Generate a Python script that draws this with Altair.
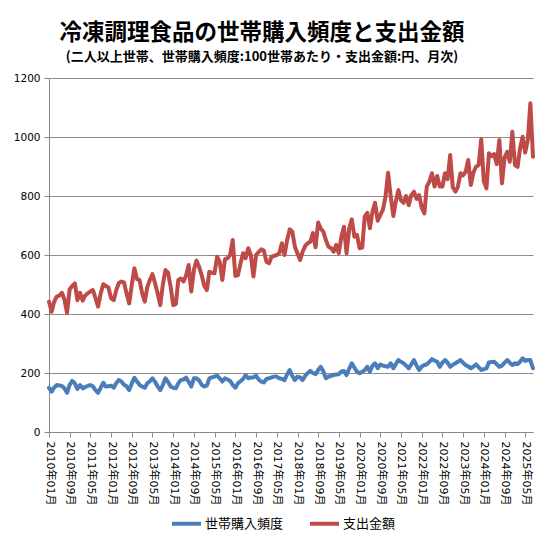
import altair as alt
import pandas as pd

# monthly categories: 2010-01 .. 2025-08
years = list(range(2010, 2026))
months = [f"{y}-{m:02d}-01T00:00:00" for y in years for m in range(1, 13)][:188]

# 世帯購入頻度 (100世帯あたり)
freq = [
    150, 137, 150, 159, 158, 156, 148, 133, 160, 173, 165, 146,
    159, 148, 152, 156, 159, 155, 142, 133, 150, 167, 154, 155,
    157, 150, 165, 176, 171, 160, 155, 142, 165, 184, 171, 160,
    154, 150, 165, 172, 182, 170, 155, 142, 160, 182, 170, 154,
    150, 148, 165, 176, 178, 184, 170, 154, 182, 182, 175, 160,
    154, 158, 182, 185, 188, 191, 182, 171, 182, 178, 173, 160,
    150, 165, 172, 180, 193, 182, 185, 185, 191, 178, 171, 168,
    180, 182, 185, 188, 188, 182, 180, 176, 195, 210, 190, 176,
    188, 185, 176, 190, 200, 207, 200, 196, 210, 221, 205, 182,
    188, 190, 193, 195, 196, 205, 207, 193, 215, 233, 218, 205,
    199, 204, 210, 221, 204, 225, 233, 216, 229, 225, 223, 221,
    233, 216, 230, 244, 238, 233, 225, 216, 230, 244, 225, 210,
    222, 227, 229, 238, 247, 242, 238, 221, 235, 244, 235, 221,
    228, 233, 238, 244, 235, 227, 222, 216, 222, 229, 220, 210,
    213, 216, 236, 237, 238, 230, 221, 225, 235, 244, 235, 227,
    233, 230, 238, 250, 241, 244, 244, 216,
]

# 支出金額 (円)
spend = [
    442, 408, 440, 459, 462, 472, 450, 404, 484, 495, 504, 447,
    472, 445, 462, 470, 476, 481, 455, 425, 470, 501, 495, 490,
    453, 447, 480, 505, 510, 507, 470, 436, 500, 555, 518, 515,
    470, 442, 490, 515, 535, 504, 470, 430, 500, 549, 540, 493,
    430, 434, 515, 520, 510, 530, 566, 476, 550, 581, 560, 532,
    495, 481, 543, 540, 538, 594, 577, 515, 585, 589, 600, 651,
    529, 532, 570, 606, 589, 623, 600, 527, 600, 610, 619, 615,
    577, 572, 594, 597, 600, 606, 640, 600, 650, 687, 679, 628,
    605, 583, 610, 631, 640, 645, 674, 626, 710, 690, 679, 650,
    628, 623, 611, 634, 606, 662, 696, 606, 690, 721, 662, 668,
    623, 625, 730, 743, 691, 747, 777, 716, 736, 753, 798, 879,
    798, 732, 780, 820, 786, 777, 800, 769, 803, 815, 790, 803,
    760, 741, 832, 849, 877, 832, 868, 832, 832, 877, 857, 939,
    830, 815, 830, 877, 870, 882, 922, 837, 880, 899, 905, 992,
    850, 826, 945, 935, 942, 908, 990, 843, 930, 950, 916, 1018,
    905, 899, 960, 1001, 947, 990, 1114, 933,
]

series_names = ["世帯購入頻度", "支出金額"]
series_colors = ["#4A7EBB", "#BE4B48"]

# x tick labels every 8 months starting 2010-01
tick_ym = [(2010 + (k * 8) // 12, (k * 8) % 12 + 1) for k in range(24)]
y_ticks = [0, 200, 400, 600, 800, 1000, 1200]

rows = []
for d, f, s in zip(months, freq, spend):
    rows.append({"date": d, "series": series_names[0], "value": f})
    rows.append({"date": d, "series": series_names[1], "value": s})
df = pd.DataFrame(rows)

jp = "Noto Sans CJK JP"

chart = (
    alt.Chart(df)
    .mark_line(strokeWidth=4, strokeJoin="round", strokeCap="round")
    .encode(
        x=alt.X(
            "date:T",
            scale=alt.Scale(
                domain=[alt.DateTime(year=2010, month=1, date=1),
                        alt.DateTime(year=2025, month=8, date=1)],
                nice=False,
            ),
            axis=alt.Axis(
                values=[alt.DateTime(year=y, month=m, date=1) for y, m in tick_ym],
                format="%Y年%m月",
                labelAngle=90,
                labelAlign="left",
                labelBaseline="middle",
                labelFont="DejaVu Sans, Noto Sans CJK JP",
                labelFontSize=11,
                labelColor="black",
                labelPadding=4,
                labelOverlap=False,
                labelFlush=False,
                tickSize=5,
                tickColor="#888888",
                domainColor="#888888",
                grid=False,
                title=None,
            ),
        ),
        y=alt.Y(
            "value:Q",
            scale=alt.Scale(domain=[0, 1200], nice=False),
            axis=alt.Axis(
                values=y_ticks,
                format="d",
                labelFont="DejaVu Sans",
                labelFontSize=10.5,
                labelColor="black",
                labelPadding=4,
                tickSize=5,
                tickColor="#888888",
                domainColor="#888888",
                grid=True,
                gridColor="#8c8c8c",
                title=None,
            ),
        ),
        color=alt.Color(
            "series:N",
            scale=alt.Scale(domain=series_names, range=series_colors),
            legend=alt.Legend(
                title=None,
                orient="none",
                direction="horizontal",
                legendX=121,
                legendY=429,
                symbolType="stroke",
                symbolStrokeWidth=4,
                symbolSize=841,
                labelFont=jp,
                labelFontSize=13,
                labelColor="black",
                labelOffset=2,
                columnPadding=18,
            ),
        ),
    )
    .properties(
        width=484,
        height=354,
        autosize=alt.AutoSizeParams(type="none"),
        padding={"left": 41, "top": 70, "right": 10, "bottom": 110},
        title=alt.TitleParams(
            text="冷凍調理食品の世帯購入頻度と支出金額",
            subtitle="(二人以上世帯、世帯購入頻度:100世帯あたり・支出金額:円、月次)",
            font=jp,
            fontSize=22.5,
            fontWeight="bold",
            color="black",
            subtitleFont=jp,
            subtitleFontSize=13,
            subtitleFontWeight="bold",
            subtitleColor="black",
            subtitlePadding=7,
            anchor="middle",
            dx=-29,
            offset=9,
        ),
    )
    .configure_view(stroke=None)
)

chart.save("out.html", embed_options={"renderer": "svg", "actions": False})
